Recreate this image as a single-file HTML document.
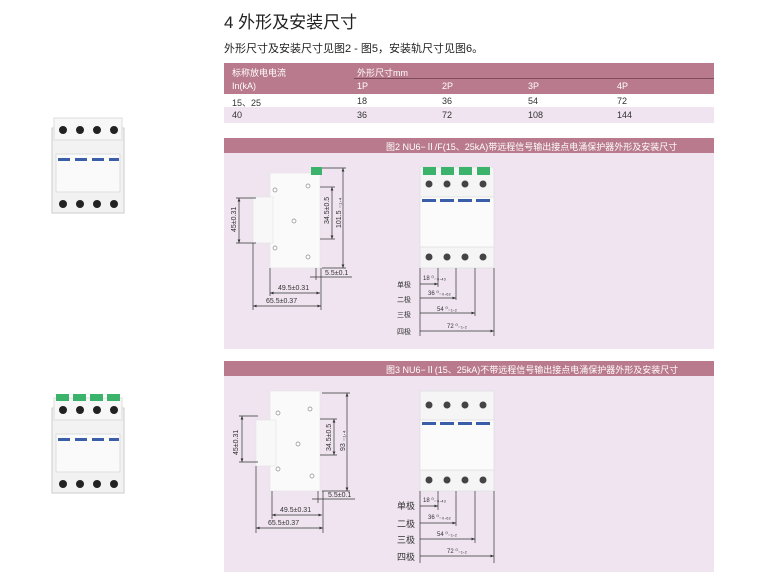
<!DOCTYPE html>
<html><head><meta charset="utf-8"><style>
body{margin:0;width:784px;height:579px;background:#fff;position:relative;overflow:hidden;font-family:"Liberation Sans","Noto Sans CJK SC",sans-serif;color:#333}
.a{position:absolute;white-space:nowrap}
.bar{position:absolute;left:224px;width:490px;background:#b87a8c;color:#fff}
.pan{position:absolute;left:224px;width:490px;background:#efe4f0}
td{padding:0;font-size:9px}
</style></head><body>
<div class="a" style="left:224px;top:8px;font-size:17px;color:#222">4 外形及安装尺寸</div>
<div class="a" style="left:224px;top:40px;font-size:11px;color:#222">外形尺寸及安装尺寸见图2 - 图5，安装轨尺寸见图6。</div>
<div class="bar" style="top:63px;height:31px"></div>
<div style="position:absolute;left:354px;top:78px;width:360px;height:1px;background:#7d4a5a"></div>
<div class="a" style="left:232px;top:66px;font-size:9px;color:#fff">标称放电电流</div>
<div class="a" style="left:357px;top:66px;font-size:9px;color:#fff">外形尺寸mm</div>
<div class="a" style="left:232px;top:81px;font-size:9px;color:#fff">In(kA)</div>
<div class="a" style="left:357px;top:81px;font-size:9px;color:#fff">1P</div>
<div class="a" style="left:442px;top:81px;font-size:9px;color:#fff">2P</div>
<div class="a" style="left:528px;top:81px;font-size:9px;color:#fff">3P</div>
<div class="a" style="left:617px;top:81px;font-size:9px;color:#fff">4P</div>
<div class="a" style="left:232px;top:96px;font-size:9px">15、25</div>
<div class="a" style="left:357px;top:96px;font-size:9px">18</div>
<div class="a" style="left:442px;top:96px;font-size:9px">36</div>
<div class="a" style="left:528px;top:96px;font-size:9px">54</div>
<div class="a" style="left:617px;top:96px;font-size:9px">72</div>
<div class="pan" style="top:107px;height:16px"></div>
<div class="a" style="left:232px;top:110px;font-size:9px">40</div>
<div class="a" style="left:357px;top:110px;font-size:9px">36</div>
<div class="a" style="left:442px;top:110px;font-size:9px">72</div>
<div class="a" style="left:528px;top:110px;font-size:9px">108</div>
<div class="a" style="left:617px;top:110px;font-size:9px">144</div>

<div class="bar" style="top:138px;height:15px"></div>
<div class="a" style="left:386px;top:140px;font-size:9px;color:#fff">图2 NU6−Ⅱ/F(15、25kA)带远程信号输出接点电涌保护器外形及安装尺寸</div>
<div class="pan" style="top:153px;height:196px"></div>
<div class="bar" style="top:361px;height:15px"></div>
<div class="a" style="left:386px;top:363px;font-size:9px;color:#fff">图3 NU6−Ⅱ(15、25kA)不带远程信号输出接点电涌保护器外形及安装尺寸</div>
<div class="pan" style="top:376px;height:196px"></div>

<svg width="784" height="579" style="position:absolute;left:0;top:0" font-family="Liberation Sans,Noto Sans CJK SC,sans-serif">
<defs>
<marker id="ar" markerWidth="6" markerHeight="6" refX="5" refY="3" orient="auto-start-reverse"><path d="M0,1 L5,3 L0,5z" fill="#333"/></marker>
<g id="photo">
<rect x="0" y="10" width="72" height="85" fill="#f2f2f2" stroke="#ccc"/>
<rect x="2" y="0" width="68" height="22" fill="#f7f7f7" stroke="#ddd"/>
<rect x="4" y="36" width="64" height="38" fill="#fafafa" stroke="#ddd"/>
<g fill="#222"><circle cx="11" cy="12" r="4"/><circle cx="28" cy="12" r="4"/><circle cx="45" cy="12" r="4"/><circle cx="62" cy="12" r="4"/>
<circle cx="11" cy="86" r="4"/><circle cx="28" cy="86" r="4"/><circle cx="45" cy="86" r="4"/><circle cx="62" cy="86" r="4"/></g>
<g fill="#3a5fa8"><rect x="6" y="40" width="12" height="3"/><rect x="23" y="40" width="12" height="3"/><rect x="40" y="40" width="12" height="3"/><rect x="57" y="40" width="10" height="3"/></g>
</g>
</defs>
<use href="#photo" x="52" y="118"/>
<g transform="translate(52,398)"><use href="#photo"/><g fill="#3bb36a"><rect x="4" y="-4" width="13" height="7"/><rect x="21" y="-4" width="13" height="7"/><rect x="38" y="-4" width="13" height="7"/><rect x="55" y="-4" width="13" height="7"/></g></g>

<g id="d1" stroke="#333" stroke-width="0.7" fill="none" font-size="7" >
<rect x="270" y="173" width="50" height="95" fill="#fafafa" stroke="#e6e6e6"/>
<rect x="253" y="197" width="20" height="46" fill="#f8f8f8" stroke="#e6e6e6"/>
<g fill="#fff" stroke="#888"><circle cx="275" cy="190" r="2"/><circle cx="308" cy="186" r="2"/><circle cx="294" cy="221" r="2"/><circle cx="275" cy="248" r="2"/><circle cx="308" cy="257" r="2"/></g>
<line x1="343" y1="168" x2="343" y2="268" marker-start="url(#ar)" marker-end="url(#ar)"/>
<line x1="322" y1="168" x2="346" y2="168"/><line x1="322" y1="268" x2="346" y2="268"/>
<line x1="332" y1="187" x2="332" y2="239" marker-start="url(#ar)" marker-end="url(#ar)"/>
<line x1="320" y1="187" x2="335" y2="187"/><line x1="320" y1="239" x2="335" y2="239"/>
<line x1="239" y1="198" x2="239" y2="243" marker-start="url(#ar)" marker-end="url(#ar)"/>
<line x1="236" y1="198" x2="256" y2="198"/><line x1="236" y1="243" x2="256" y2="243"/>
<line x1="253" y1="243" x2="253" y2="310"/><line x1="270" y1="268" x2="270" y2="296"/><line x1="321" y1="268" x2="321" y2="310"/><line x1="316" y1="268" x2="316" y2="280"/>
<line x1="270" y1="293" x2="320" y2="293" marker-start="url(#ar)" marker-end="url(#ar)"/>
<line x1="253" y1="306" x2="321" y2="306" marker-start="url(#ar)" marker-end="url(#ar)"/>
<line x1="310" y1="277" x2="352" y2="277"/>
<g stroke="none" fill="#333"><text x="278" y="290">49.5±0.31</text><text x="266" y="303">65.5±0.37</text><text x="325" y="275">5.5±0.1</text>
<text transform="translate(236,232) rotate(-90)">45±0.31</text><text transform="translate(329,224) rotate(-90)">34.5±0.5</text>
<text transform="translate(341,228) rotate(-90)">101.5 ₋₁.₄</text></g>
<rect x="311" y="167" width="11" height="8" fill="#3bb36a" stroke="none"/>
<!-- front -->
<rect x="420" y="167" width="74" height="101" fill="#f5f5f5" stroke="#ddd"/>
<rect x="420" y="197" width="74" height="50" fill="#fbfbfb" stroke="#ddd"/>
<g fill="#3bb36a" stroke="none"><rect x="423" y="167" width="13" height="8"/><rect x="441" y="167" width="13" height="8"/><rect x="459" y="167" width="13" height="8"/><rect x="477" y="167" width="13" height="8"/></g>
<g fill="#444" stroke="none"><circle cx="429" cy="184" r="3.5"/><circle cx="447" cy="184" r="3.5"/><circle cx="465" cy="184" r="3.5"/><circle cx="483" cy="184" r="3.5"/>
<circle cx="429" cy="257" r="3.5"/><circle cx="447" cy="257" r="3.5"/><circle cx="465" cy="257" r="3.5"/><circle cx="483" cy="257" r="3.5"/></g>
<g fill="#3a5fa8" stroke="none"><rect x="422" y="199" width="14" height="3"/><rect x="440" y="199" width="14" height="3"/><rect x="458" y="199" width="14" height="3"/><rect x="476" y="199" width="14" height="3"/></g>
<line x1="420" y1="268" x2="420" y2="336"/><line x1="438" y1="268" x2="438" y2="287"/><line x1="456" y1="268" x2="456" y2="300"/><line x1="475" y1="268" x2="475" y2="316"/><line x1="494" y1="268" x2="494" y2="336"/>
<line x1="420" y1="284" x2="438" y2="284" marker-end="url(#ar)"/>
<line x1="420" y1="298" x2="456" y2="298" marker-end="url(#ar)"/>
<line x1="420" y1="313" x2="475" y2="313" marker-end="url(#ar)"/>
<line x1="420" y1="331" x2="494" y2="331" marker-end="url(#ar)"/>
<g stroke="none" fill="#333"><text x="423" y="280" font-size="6">18 ⁰₋₀.₄₃</text><text x="428" y="295" font-size="6">36 ⁰₋₀.₆₂</text><text x="437" y="311" font-size="6">54 ⁰₋₁.₂</text><text x="447" y="328" font-size="6">72 ⁰₋₁.₂</text>
<text x="397" y="287">单极</text><text x="397" y="302">二极</text><text x="397" y="317">三极</text><text x="397" y="334">四极</text></g>
</g>
<g transform="translate(0,223)">
<g stroke="#333" stroke-width="0.7" fill="none" font-size="7">
<rect x="270" y="168" width="50" height="100" fill="#fafafa" stroke="#e6e6e6"/>
<rect x="256" y="197" width="20" height="46" fill="#f8f8f8" stroke="#e6e6e6"/>
<g fill="#fff" stroke="#888"><circle cx="278" cy="190" r="2"/><circle cx="310" cy="186" r="2"/><circle cx="298" cy="221" r="2"/><circle cx="278" cy="246" r="2"/><circle cx="312" cy="253" r="2"/></g>
<line x1="347" y1="170" x2="347" y2="268" marker-start="url(#ar)" marker-end="url(#ar)"/>
<line x1="322" y1="170" x2="350" y2="170"/><line x1="322" y1="268" x2="350" y2="268"/>
<line x1="334" y1="196" x2="334" y2="232" marker-start="url(#ar)" marker-end="url(#ar)"/>
<line x1="320" y1="196" x2="337" y2="196"/><line x1="320" y1="232" x2="337" y2="232"/>
<line x1="242" y1="193" x2="242" y2="239" marker-start="url(#ar)" marker-end="url(#ar)"/>
<line x1="239" y1="193" x2="258" y2="193"/><line x1="239" y1="239" x2="258" y2="239"/>
<line x1="256" y1="243" x2="256" y2="310"/><line x1="272" y1="268" x2="272" y2="296"/><line x1="323" y1="268" x2="323" y2="310"/><line x1="318" y1="268" x2="318" y2="280"/>
<line x1="272" y1="292" x2="322" y2="292" marker-start="url(#ar)" marker-end="url(#ar)"/>
<line x1="256" y1="305" x2="323" y2="305" marker-start="url(#ar)" marker-end="url(#ar)"/>
<line x1="312" y1="276" x2="355" y2="276"/>
<g stroke="none" fill="#333"><text x="280" y="289">49.5±0.31</text><text x="268" y="302">65.5±0.37</text><text x="328" y="274">5.5±0.1</text>
<text transform="translate(238,232) rotate(-90)">45±0.31</text><text transform="translate(331,228) rotate(-90)">34.5±0.5</text>
<text transform="translate(345,228) rotate(-90)">93 ₋₁.₄</text></g>
<rect x="420" y="168" width="74" height="100" fill="#f5f5f5" stroke="#ddd"/>
<rect x="420" y="197" width="74" height="50" fill="#fbfbfb" stroke="#ddd"/>
<g fill="#444" stroke="none"><circle cx="429" cy="182" r="3.5"/><circle cx="447" cy="182" r="3.5"/><circle cx="465" cy="182" r="3.5"/><circle cx="483" cy="182" r="3.5"/>
<circle cx="429" cy="257" r="3.5"/><circle cx="447" cy="257" r="3.5"/><circle cx="465" cy="257" r="3.5"/><circle cx="483" cy="257" r="3.5"/></g>
<g fill="#3a5fa8" stroke="none"><rect x="422" y="199" width="14" height="3"/><rect x="440" y="199" width="14" height="3"/><rect x="458" y="199" width="14" height="3"/><rect x="476" y="199" width="14" height="3"/></g>
<line x1="420" y1="268" x2="420" y2="340"/><line x1="438" y1="268" x2="438" y2="287"/><line x1="456" y1="268" x2="456" y2="303"/><line x1="475" y1="268" x2="475" y2="320"/><line x1="494" y1="268" x2="494" y2="340"/>
<line x1="420" y1="283" x2="438" y2="283" marker-end="url(#ar)"/>
<line x1="420" y1="300" x2="456" y2="300" marker-end="url(#ar)"/>
<line x1="420" y1="316" x2="475" y2="316" marker-end="url(#ar)"/>
<line x1="420" y1="333" x2="494" y2="333" marker-end="url(#ar)"/>
<g stroke="none" fill="#333"><text x="423" y="279" font-size="6">18 ⁰₋₀.₄₃</text><text x="428" y="296" font-size="6">36 ⁰₋₀.₆₂</text><text x="437" y="313" font-size="6">54 ⁰₋₁.₂</text><text x="447" y="330" font-size="6">72 ⁰₋₁.₂</text>
<g font-size="9"><text x="397" y="286">单极</text><text x="397" y="304">二极</text><text x="397" y="320">三极</text><text x="397" y="337">四极</text></g></g>
</g></g>
</svg>
</body></html>
